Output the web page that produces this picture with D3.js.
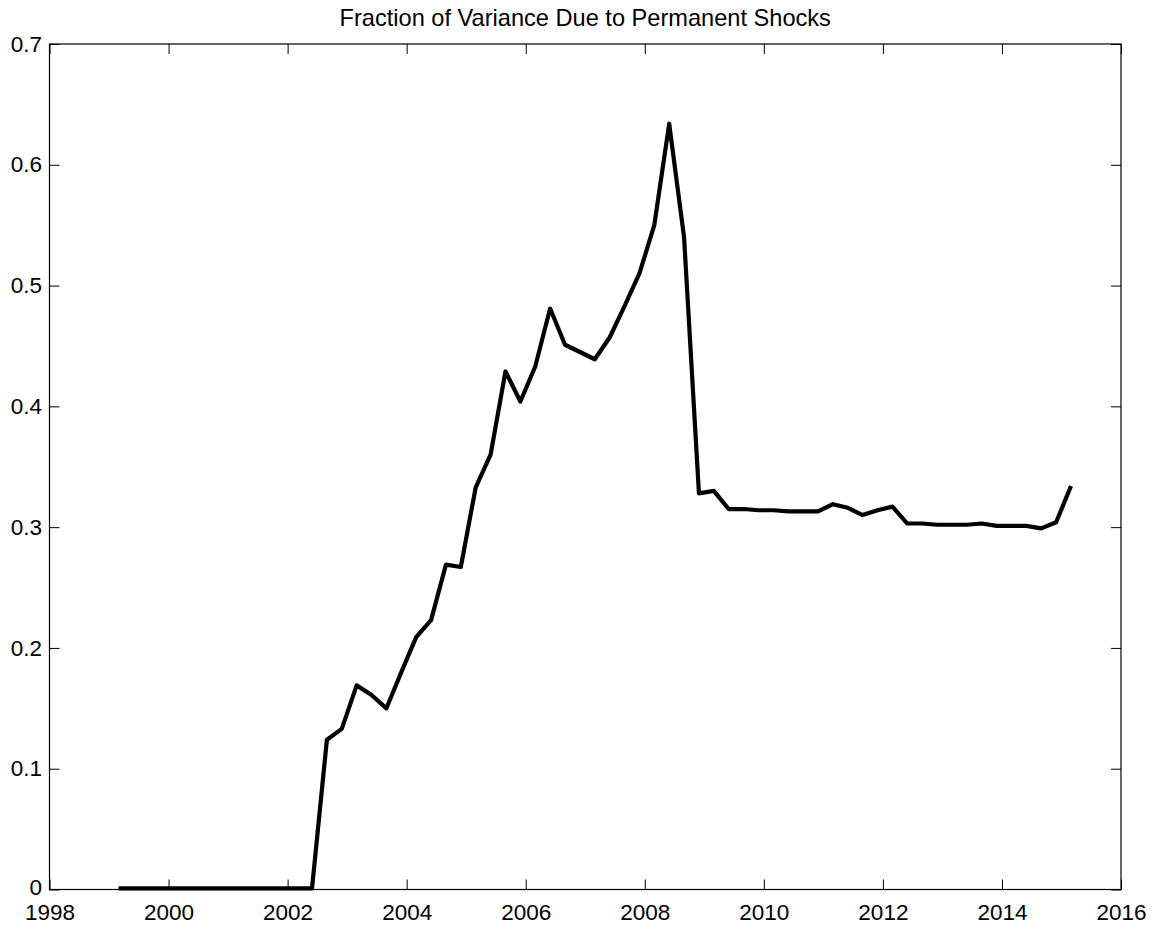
<!DOCTYPE html>
<html>
<head>
<meta charset="utf-8">
<script src="https://cdn.jsdelivr.net/npm/d3@7"></script>
<style>
  html, body { margin: 0; padding: 0; background: #fff; }
  svg { display: block; }
  text { font-family: "Liberation Sans", Arial, Helvetica, sans-serif; fill: #000; }
</style>
</head>
<body>
<svg id="chart" width="1158" height="930"></svg>
<script>
const chartTitle = "Fraction of Variance Due to Permanent Shocks";

const dates = [
  1999.16, 1999.41, 1999.66, 1999.91,
  2000.16, 2000.41, 2000.66, 2000.91,
  2001.16, 2001.41, 2001.66, 2001.91,
  2002.16, 2002.41, 2002.66, 2002.91,
  2003.16, 2003.41, 2003.66, 2003.91,
  2004.16, 2004.41, 2004.66, 2004.91,
  2005.16, 2005.41, 2005.66, 2005.91,
  2006.16, 2006.41, 2006.66, 2006.91,
  2007.16, 2007.41, 2007.66, 2007.91,
  2008.16, 2008.41, 2008.66, 2008.91,
  2009.16, 2009.41, 2009.66, 2009.91,
  2010.16, 2010.41, 2010.66, 2010.91,
  2011.16, 2011.41, 2011.66, 2011.91,
  2012.16, 2012.41, 2012.66, 2012.91,
  2013.16, 2013.41, 2013.66, 2013.91,
  2014.16, 2014.41, 2014.66, 2014.91,
  2015.16
];

const fraction = [
  0.001, 0.001, 0.001, 0.001,
  0.001, 0.001, 0.001, 0.001,
  0.001, 0.001, 0.001, 0.001,
  0.001, 0.001, 0.124, 0.133,
  0.169, 0.161, 0.150, 0.180,
  0.209, 0.223, 0.269, 0.267,
  0.333, 0.360, 0.429, 0.404,
  0.433, 0.481, 0.451, 0.445,
  0.439, 0.457, 0.483, 0.510,
  0.550, 0.634, 0.540, 0.328,
  0.330, 0.315, 0.315, 0.314,
  0.314, 0.313, 0.313, 0.313,
  0.319, 0.316, 0.310, 0.314,
  0.317, 0.303, 0.303, 0.302,
  0.302, 0.302, 0.303, 0.301,
  0.301, 0.301, 0.299, 0.304,
  0.334
];

const xTicks = [1998, 2000, 2002, 2004, 2006, 2008, 2010, 2012, 2014, 2016];
const yTicks = [0, 0.1, 0.2, 0.3, 0.4, 0.5, 0.6, 0.7];

const svg = d3.select("#chart");
const L = 49.5, R = 1121, T = 44, B = 889.5;
const tickFont = 22.5;
const titleFont = 23.6;

const x = d3.scaleLinear().domain([1998, 2016]).range([L, R]);
const y = d3.scaleLinear().domain([0, 0.7]).range([B, T]);

const line = d3.line().x((d, i) => x(dates[i])).y(d => y(d));
svg.append("path")
  .datum(fraction)
  .attr("fill", "none")
  .attr("stroke", "#000")
  .attr("stroke-width", 4.2)
  .attr("stroke-linejoin", "round")
  .attr("d", line);

function styleAxis(g) {
  g.select(".domain").remove();
  g.selectAll(".tick line").attr("stroke", "#000").attr("stroke-width", 1);
  g.selectAll(".tick text").attr("font-size", tickFont).attr("font-family", null);
}

// bottom axis
svg.append("g").attr("transform", `translate(0,${B})`)
  .call(d3.axisBottom(x).tickValues(xTicks).tickFormat(d3.format("d"))
    .tickSizeInner(-10).tickSizeOuter(0).tickPadding(15))
  .call(styleAxis);

// top axis (ticks only)
svg.append("g").attr("transform", `translate(0,${T})`)
  .call(d3.axisTop(x).tickValues(xTicks).tickFormat("")
    .tickSizeInner(-10).tickSizeOuter(0))
  .call(styleAxis);

// left axis
svg.append("g").attr("transform", `translate(${L},0)`)
  .call(d3.axisLeft(y).tickValues(yTicks).tickFormat(d => d === 0 ? "0" : d3.format(".1f")(d))
    .tickSizeInner(-10).tickSizeOuter(0).tickPadding(7.5))
  .call(styleAxis);

// nudge the "0" label slightly up, as in the reference
svg.selectAll("g.tick text").filter(function() { return this.textContent === "0"; })
  .attr("dy", "0.2em");

// right axis (ticks only)
svg.append("g").attr("transform", `translate(${R},0)`)
  .call(d3.axisRight(y).tickValues(yTicks).tickFormat("")
    .tickSizeInner(-10).tickSizeOuter(0))
  .call(styleAxis);

// box
svg.append("rect")
  .attr("x", L).attr("y", T).attr("width", R - L).attr("height", B - T)
  .attr("fill", "none").attr("stroke", "#000").attr("stroke-width", 1.2);

// title
svg.append("text")
  .attr("x", (L + R) / 2)
  .attr("y", 26)
  .attr("text-anchor", "middle")
  .attr("font-size", titleFont)
  .text(chartTitle);
</script>
</body>
</html>
